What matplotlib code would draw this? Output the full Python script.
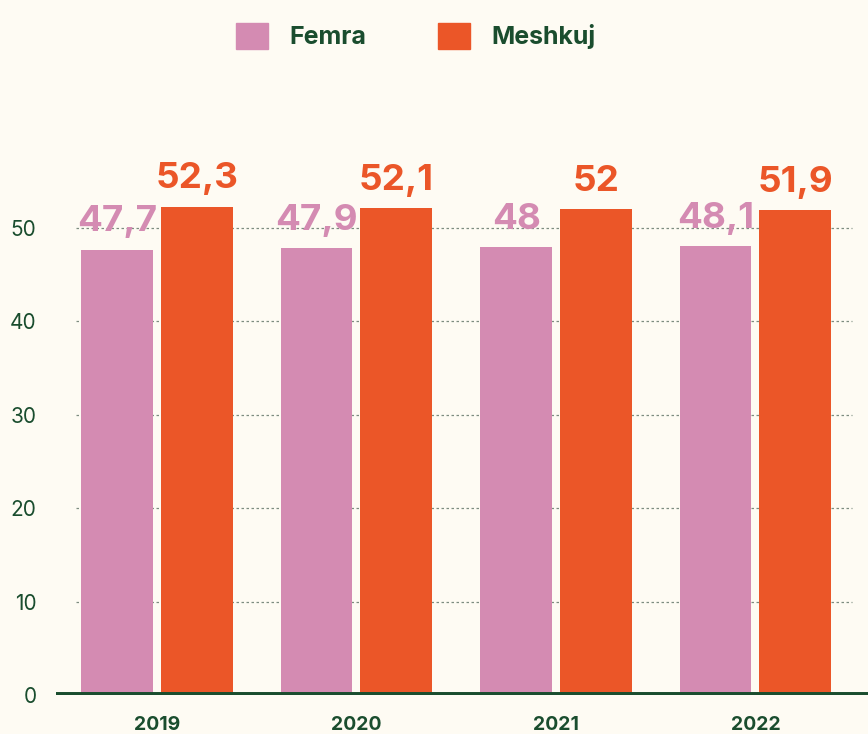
import matplotlib

matplotlib.use("Agg")

import matplotlib.pyplot as plt
import numpy as np
from matplotlib.patches import Patch

years = ["2019", "2020", "2021", "2022"]
femra = [47.7, 47.9, 48.0, 48.1]
meshkuj = [52.3, 52.1, 52.0, 51.9]
y_ticks = [0, 10, 20, 30, 40, 50]

BG = "#fefbf3"
PINK = "#d48bb2"
ORANGE = "#eb5628"
GREEN = "#1a4d2e"

plt.rcParams["font.family"] = ["Inter", "DejaVu Sans"]


def fmt(v: float) -> str:
    s = f"{v:.1f}".replace(".", ",")
    return s[:-2] if s.endswith(",0") else s


fig = plt.figure(figsize=(8.68, 7.34), dpi=100, facecolor=BG)
ax = fig.add_axes([56 / 868, 39 / 734, 812 / 868, 565 / 734])
ax.set_facecolor(BG)

x = np.arange(len(years))
width = 0.36
off = 0.2

ax.hlines(y_ticks[1:], -0.406, 3.484, colors="#7d8c80", linestyles=(0, (2, 2)), linewidth=0.9, zorder=1)

b1 = ax.bar(x - off, femra, width, color=PINK, zorder=2)
b2 = ax.bar(x + off, meshkuj, width, color=ORANGE, zorder=2)

for rects, vals, col in [(b1, femra, PINK), (b2, meshkuj, ORANGE)]:
    for r, v in zip(rects, vals):
        ax.annotate(fmt(v), (r.get_x() + r.get_width() / 2, v), xytext=(0, 8),
                    textcoords="offset points", ha="center", va="bottom",
                    fontsize=26.5, fontweight="bold", color=col, zorder=3)

ax.axhline(0, color=GREEN, linewidth=5, zorder=4)

ax.set_xlim(-0.506, 3.564)
ax.set_ylim(0, 60.5)
ax.set_yticks(y_ticks)
ax.set_xticks(x)
ax.set_xticklabels(years, fontsize=14, fontweight="bold", color=GREEN)
ax.tick_params(axis="x", length=0, pad=15)
ax.tick_params(axis="y", length=0, pad=14, labelsize=15, labelcolor=GREEN)
for s in ax.spines.values():
    s.set_visible(False)

handles = [Patch(color=PINK, label="Femra"), Patch(color=ORANGE, label="Meshkuj")]
fig.legend(handles=handles, loc="upper center", bbox_to_anchor=(0.479, 1.0), ncol=2,
           frameon=False, handlelength=1.25, handleheight=1.25,
           handletextpad=0.85, columnspacing=2.9, prop={"weight": "bold", "size": 18},
           labelcolor=GREEN)

fig.savefig("out.png", dpi=100, facecolor=BG)
